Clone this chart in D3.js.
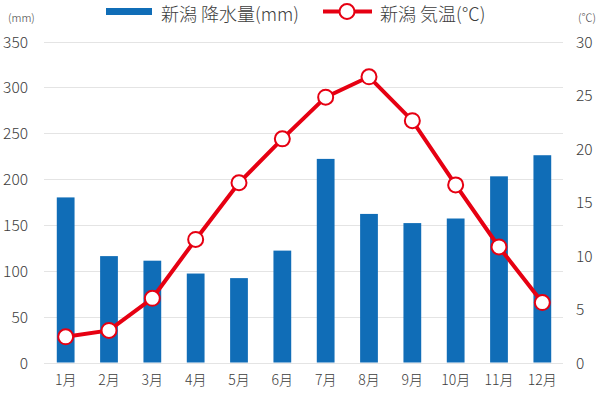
<!DOCTYPE html>
<html>
<head>
<meta charset="utf-8">
<script src="https://cdn.jsdelivr.net/npm/d3@7"></script>
<style>
  body { margin: 0; background: #fff; }
  svg text { font-family: "Noto Sans CJK JP", "Noto Sans", sans-serif; fill: #3c3c3c; font-weight: 300; }
  .axis .domain { display: none; }
  .axis line { display: none; }
</style>
</head>
<body>
<div id="chart"></div>
<script>
// Data (Niigata monthly normals)
const months = ["1月", "2月", "3月", "4月", "5月", "6月", "7月", "8月", "9月", "10月", "11月", "12月"];
const rain = [180, 116, 111, 97, 92, 122, 222, 162, 152, 157, 203, 226];
const temp = [2.4, 3.0, 6.0, 11.5, 16.8, 20.9, 24.8, 26.7, 22.6, 16.6, 10.8, 5.6];
const rainTicks = [0, 50, 100, 150, 200, 250, 300, 350];
const tempTicks = [0, 5, 10, 15, 20, 25, 30];

const rainLabel = "新潟 降水量(mm)";
const tempLabel = "新潟 気温(℃)";

let width = 600,
  height = 397;
let plot = { left: 44, right: 564, top: 41.5, bottom: 362.5 };

let barColor = "#106db7";
let lineColor = "#e60012";

let svg = d3
  .select("#chart")
  .append("svg")
  .attr("width", width)
  .attr("height", height);

// Scales
let x = d3
  .scaleBand()
  .domain(months)
  .range([plot.left, plot.right])
  .paddingInner(0.59)
  .paddingOuter(0.295);
let yL = d3.scaleLinear().domain([0, 350]).range([plot.bottom, plot.top]);
let yR = d3.scaleLinear().domain([0, 30]).range([plot.bottom, plot.top]);

// Gridlines
svg
  .append("g")
  .selectAll("line")
  .data(rainTicks)
  .join("line")
  .attr("x1", plot.left)
  .attr("x2", plot.right - 1)
  .attr("y1", (d) => Math.round(yL(d)) + 0.5)
  .attr("y2", (d) => Math.round(yL(d)) + 0.5)
  .attr("stroke", "#e4e4e4")
  .attr("stroke-width", 1.2);

// Left axis
svg
  .append("g")
  .attr("class", "axis")
  .attr("transform", "translate(" + 28 + ",0)")
  .call(d3.axisLeft(yL).tickValues(rainTicks).tickSize(0).tickPadding(0))
  .call((g) => g.selectAll("text").attr("font-size", 15.5).attr("dy", "0.36em"));

// Right axis
svg
  .append("g")
  .attr("class", "axis")
  .attr("transform", "translate(" + 576 + ",0)")
  .call(d3.axisRight(yR).tickValues(tempTicks).tickSize(0).tickPadding(0))
  .call((g) => g.selectAll("text").attr("font-size", 15.5).attr("dy", "0.36em"));

// Bottom axis
svg
  .append("g")
  .attr("class", "axis")
  .attr("transform", "translate(0," + 375 + ")")
  .call(d3.axisBottom(x).tickSize(0).tickPadding(0))
  .call((g) => g.selectAll("text").attr("font-size", 14).attr("dy", "0.71em"));

// Unit labels
svg.append("text").attr("x", 8).attr("y", 22).attr("font-size", 11).text("(mm)");
svg.append("text").attr("x", 578).attr("y", 22).attr("font-size", 11).text("(℃)");

// Bars
svg
  .append("g")
  .selectAll("rect")
  .data(rain)
  .join("rect")
  .attr("x", (d, i) => x(months[i]))
  .attr("y", (d) => yL(d))
  .attr("width", x.bandwidth())
  .attr("height", (d) => yL(0) - yL(d))
  .attr("fill", barColor);

// Temperature line
let line = d3
  .line()
  .x((d, i) => x(months[i]) + x.bandwidth() / 2)
  .y((d) => yR(d));
svg
  .append("path")
  .datum(temp)
  .attr("d", line)
  .attr("fill", "none")
  .attr("stroke", lineColor)
  .attr("stroke-width", 4);

svg
  .append("g")
  .selectAll("circle")
  .data(temp)
  .join("circle")
  .attr("cx", (d, i) => x(months[i]) + x.bandwidth() / 2)
  .attr("cy", (d) => yR(d))
  .attr("r", 7.5)
  .attr("fill", "#fff")
  .attr("stroke", lineColor)
  .attr("stroke-width", 2);

// Legend
let legend = svg.append("g");
legend.append("rect").attr("x", 106).attr("y", 8).attr("width", 46).attr("height", 7).attr("fill", barColor);
legend.append("text").attr("x", 161).attr("y", 20.5).attr("font-size", 18).text(rainLabel);
legend
  .append("line")
  .attr("x1", 323)
  .attr("x2", 372)
  .attr("y1", 11.5)
  .attr("y2", 11.5)
  .attr("stroke", lineColor)
  .attr("stroke-width", 4);
legend
  .append("circle")
  .attr("cx", 347)
  .attr("cy", 11.5)
  .attr("r", 7.5)
  .attr("fill", "#fff")
  .attr("stroke", lineColor)
  .attr("stroke-width", 2);
legend.append("text").attr("x", 380).attr("y", 20.5).attr("font-size", 18).text(tempLabel);
</script>
</body>
</html>
